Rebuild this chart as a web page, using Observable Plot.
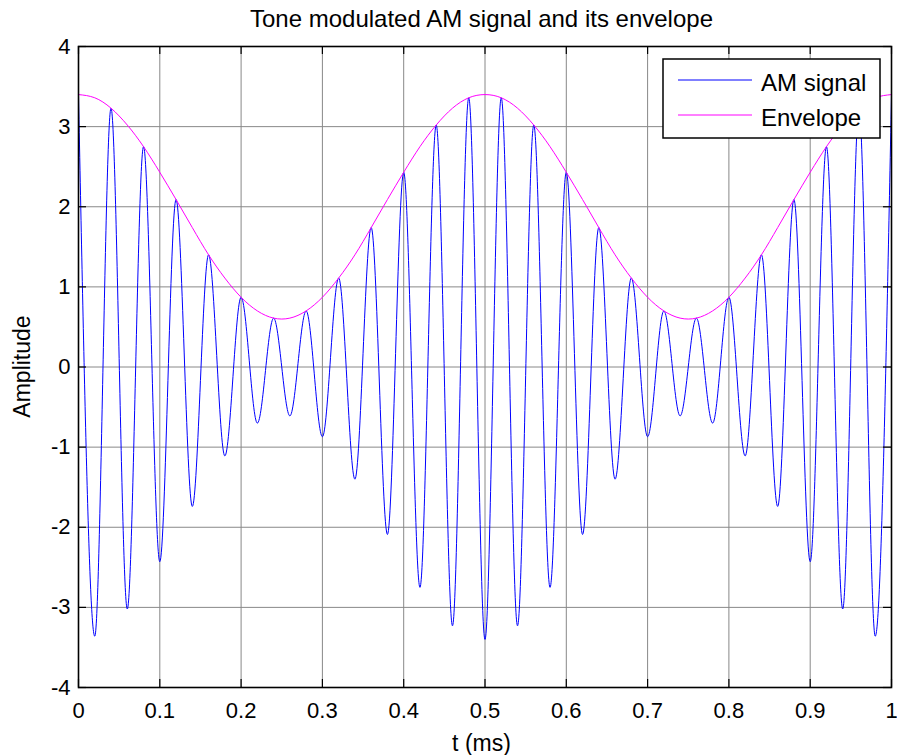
<!DOCTYPE html>
<html>
<head>
<meta charset="utf-8">
<script src="https://cdn.jsdelivr.net/npm/d3@7"></script>
<script src="https://cdn.jsdelivr.net/npm/@observablehq/plot@0.6"></script>
<style>
  html, body { margin: 0; padding: 0; background: #fff; }
  #chart { width: 897px; height: 755px; }
</style>
</head>
<body>
<div id="chart"></div>
<script>
// ---- data ----
const chartTitle = "Tone modulated AM signal and its envelope";
const xLabel = "t (ms)";
const yLabel = "Amplitude";
const seriesNames = ["AM signal", "Envelope"];

const xTicks = [0, 0.1, 0.2, 0.3, 0.4, 0.5, 0.6, 0.7, 0.8, 0.9, 1];
const yTicks = [-4, -3, -2, -1, 0, 1, 2, 3, 4];

// times (ms) of the carrier peaks/troughs
const tPeaks = [0, 0.02, 0.04, 0.06, 0.08, 0.10, 0.12, 0.14, 0.16, 0.18,
  0.20, 0.22, 0.24, 0.26, 0.28, 0.30, 0.32, 0.34, 0.36, 0.38,
  0.40, 0.42, 0.44, 0.46, 0.48, 0.50, 0.52, 0.54, 0.56, 0.58,
  0.60, 0.62, 0.64, 0.66, 0.68, 0.70, 0.72, 0.74, 0.76, 0.78,
  0.80, 0.82, 0.84, 0.86, 0.88, 0.90, 0.92, 0.94, 0.96, 0.98, 1.00];

// AM signal value at each peak/trough
const amSignal = [3.40, -3.36, 3.23, -3.02, 2.75, -2.43, 2.09, -1.74, 1.40, -1.11,
  0.87, -0.70, 0.61, -0.61, 0.70, -0.87, 1.11, -1.40, 1.74, -2.09,
  2.43, -2.75, 3.02, -3.23, 3.36, -3.40, 3.36, -3.23, 3.02, -2.75,
  2.43, -2.09, 1.74, -1.40, 1.11, -0.87, 0.70, -0.61, 0.61, -0.70,
  0.87, -1.11, 1.40, -1.74, 2.09, -2.43, 2.75, -3.02, 3.23, -3.36, 3.40];

// envelope value at the same times
const envelope = [3.40, 3.36, 3.23, 3.02, 2.75, 2.43, 2.09, 1.74, 1.40, 1.11,
  0.87, 0.70, 0.61, 0.61, 0.70, 0.87, 1.11, 1.40, 1.74, 2.09,
  2.43, 2.75, 3.02, 3.23, 3.36, 3.40, 3.36, 3.23, 3.02, 2.75,
  2.43, 2.09, 1.74, 1.40, 1.11, 0.87, 0.70, 0.61, 0.61, 0.70,
  0.87, 1.11, 1.40, 1.74, 2.09, 2.43, 2.75, 3.02, 3.23, 3.36, 3.40];

// ---- build tables ----
const sigData = tPeaks.map((t, i) => ({t, v: amSignal[i]}));
const envData = tPeaks.map((t, i) => ({t, v: envelope[i]}));

const W = 897, H = 755;
const mL = 78, mR = 6, mT = 46, mB = 68;
const fw = W - mL - mR, fh = H - mT - mB;
const tickLen = 8;
const FONT = "'Liberation Sans', Arial, Helvetica, sans-serif";

const chart = Plot.plot({
  width: W, height: H,
  marginLeft: mL, marginRight: mR, marginTop: mT, marginBottom: mB,
  style: {fontFamily: FONT, fontSize: "22px", background: "#fff", color: "#000", overflow: "visible"},
  x: {domain: [0, 1], label: null},
  y: {domain: [-4, 4], label: null},
  marks: [
    Plot.gridX(xTicks, {stroke: "#888", strokeOpacity: 1, strokeWidth: 1}),
    Plot.gridY(yTicks, {stroke: "#888", strokeOpacity: 1, strokeWidth: 1}),
    Plot.line(sigData, {x: "t", y: "v", stroke: "#0000ff", strokeWidth: 1, curve: "monotone-x"}),
    Plot.line(envData, {x: "t", y: "v", stroke: "#ff00ff", strokeWidth: 1, curve: "natural"}),
    // inward ticks on all four sides
    Plot.tickX(xTicks, {x: d => d, insetTop: fh - tickLen, stroke: "#000", strokeWidth: 1.2}),
    Plot.tickX(xTicks, {x: d => d, insetBottom: fh - tickLen, stroke: "#000", strokeWidth: 1.2}),
    Plot.tickY(yTicks, {y: d => d, insetRight: fw - tickLen, stroke: "#000", strokeWidth: 1.2}),
    Plot.tickY(yTicks, {y: d => d, insetLeft: fw - tickLen, stroke: "#000", strokeWidth: 1.2}),
    Plot.frame({stroke: "#000", strokeWidth: 1.6}),
    Plot.axisX(xTicks, {anchor: "bottom", tickSize: 0, tickPadding: 15, tickFormat: d => String(d), fontSize: 22, label: null}),
    Plot.axisY(yTicks, {anchor: "left", tickSize: 0, tickPadding: 8, tickFormat: d => String(d), fontSize: 22, label: null})
  ]
});

document.getElementById("chart").appendChild(chart);

// ---- title, axis labels, legend ----
const svg = d3.select(chart);
const cx = mL + fw / 2;

svg.append("text")
  .attr("x", cx - 3).attr("y", 27)
  .attr("text-anchor", "middle")
  .attr("font-family", FONT).attr("font-size", 24).attr("fill", "#000")
  .text(chartTitle);

svg.append("text")
  .attr("x", cx - 3).attr("y", 751)
  .attr("text-anchor", "middle")
  .attr("font-family", FONT).attr("font-size", 23).attr("fill", "#000")
  .text(xLabel);

svg.append("text")
  .attr("transform", `translate(30,${mT + fh / 2}) rotate(-90)`)
  .attr("text-anchor", "middle")
  .attr("font-family", FONT).attr("font-size", 23).attr("fill", "#000")
  .text(yLabel);

const leg = svg.append("g");
leg.append("rect")
  .attr("x", 663).attr("y", 59).attr("width", 217).attr("height", 79)
  .attr("fill", "#fff").attr("stroke", "#000").attr("stroke-width", 1.5);
const legColors = ["#0000ff", "#ff00ff"];
const legY = [80, 115];
seriesNames.forEach((name, i) => {
  leg.append("line")
    .attr("x1", 678).attr("x2", 752).attr("y1", legY[i]).attr("y2", legY[i])
    .attr("stroke", legColors[i]).attr("stroke-width", 1);
  leg.append("text")
    .attr("x", 761).attr("y", legY[i] + 11)
    .attr("text-anchor", "start")
    .attr("font-family", FONT).attr("font-size", 24).attr("fill", "#000")
    .text(name);
});
</script>
</body>
</html>
